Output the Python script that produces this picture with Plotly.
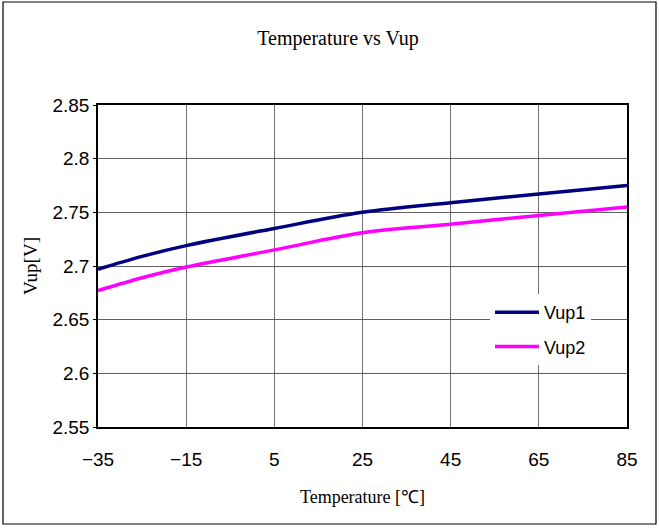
import plotly.graph_objects as go

temps = [-35, -25, -15, 5, 25, 45, 65, 85]
vup1 = [2.697, 2.709, 2.719, 2.735, 2.750, 2.759, 2.767, 2.775]
vup2 = [2.677, 2.689, 2.699, 2.715, 2.731, 2.739, 2.747, 2.755]

x_ticks = [-35, -15, 5, 25, 45, 65, 85]
x_tick_labels = ["\u221235", "\u221215", "5", "25", "45", "65", "85"]
y_ticks = [2.55, 2.6, 2.65, 2.7, 2.75, 2.8, 2.85]
y_tick_labels = ["2.55", "2.6", "2.65", "2.7", "2.75", "2.8", "2.85"]

fig = go.Figure()
fig.add_trace(go.Scatter(x=temps, y=vup1, mode="lines", name="Vup1", legendgroup="g1",
                         line=dict(color="#000080", width=3.5, shape="spline", smoothing=1.0)))
fig.add_trace(go.Scatter(x=temps, y=vup2, mode="lines", name="Vup2", legendgroup="g2",
                         line=dict(color="#FF00FF", width=3.5, shape="spline", smoothing=1.0)))

L, R, T, B = 98, 32, 105, 101
W, H = 659, 528
pw, ph = W - L - R, H - T - B

def px_to_paper_x(px):
    return (px - L) / pw

def px_to_paper_y(py):
    return (H - B - py) / ph

tick_font = dict(family="Liberation Sans Narrow, Liberation Sans, Arial", size=19, color="#000000")
serif = "Liberation Serif, Times New Roman, serif"

fig.update_layout(
    width=W, height=H,
    margin=dict(l=L, r=R, t=T, b=B),
    paper_bgcolor="white", plot_bgcolor="white",
    title=dict(text="Temperature vs Vup", x=px_to_paper_x(338), xref="paper",
               y=1 - 38 / H, yref="container", xanchor="center", yanchor="middle",
               font=dict(family=serif, size=20, color="#000000")),
    showlegend=True,
    legend=dict(x=px_to_paper_x(490), y=px_to_paper_y(294), xanchor="left", yanchor="top",
                bgcolor="white", borderwidth=0,
                font=dict(family="Liberation Sans Narrow, Liberation Sans, Arial", size=18, color="#000000"),
                itemwidth=44, tracegroupgap=8),
    xaxis=dict(range=[-35, 85], tickvals=x_ticks, ticktext=x_tick_labels,
               showgrid=True, gridcolor="#707070", gridwidth=1,
               showline=True, linecolor="#000000", linewidth=1.5, mirror=True,
               ticks="", tickfont=tick_font, ticklabelstandoff=14,
               zeroline=False,
               title=dict(text="Temperature [\u2103]", font=dict(family=serif, size=18, color="#000000"),
                          standoff=22)),
    yaxis=dict(range=[2.55, 2.85], tickvals=y_ticks, ticktext=y_tick_labels,
               showgrid=True, gridcolor="#606060", gridwidth=1,
               showline=True, linecolor="#000000", linewidth=1.5, mirror=True,
               ticks="outside", ticklen=3, tickcolor="#000000", tickfont=tick_font,
               zeroline=False,
               title=dict(text="Vup[V]", font=dict(family=serif, size=19, color="#000000"),
                          standoff=10)),
    shapes=[dict(type="rect", xref="paper", yref="paper",
                 x0=px_to_paper_x(3), x1=px_to_paper_x(656),
                 y0=px_to_paper_y(524), y1=px_to_paper_y(2),
                 line=dict(color="#000000", width=1.2), fillcolor="rgba(0,0,0,0)", layer="below")],
)

fig.write_html("out.html", config={"displayModeBar": False},
               post_script="document.body.style.margin='0';document.body.style.overflow='hidden';")
